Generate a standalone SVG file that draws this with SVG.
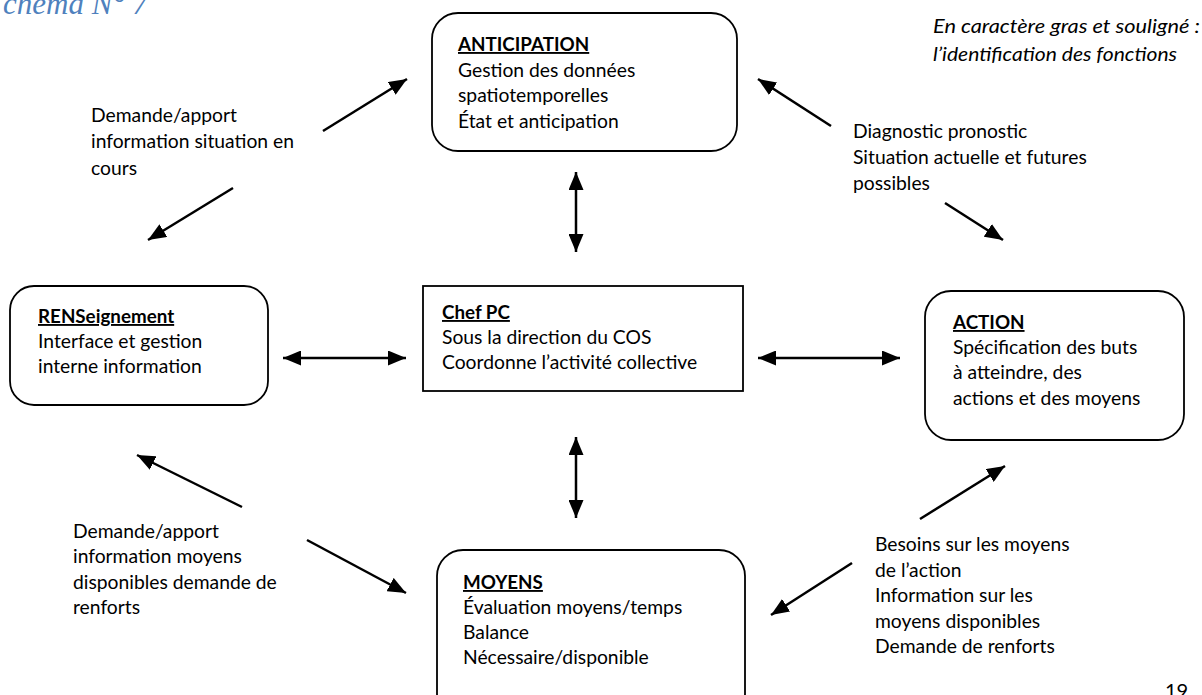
<svg xmlns="http://www.w3.org/2000/svg" width="1202" height="695" viewBox="0 0 1202 695">
  <style>
    .box { fill: #ffffff; stroke: #000000; stroke-width: 1.8; }
    .t { font-family: Lato, "Liberation Sans", sans-serif; font-size: 19.3px; fill: #000000; }
    .h { font-weight: bold; text-decoration: underline; font-size: 18.8px; }
    .note { font-family: Lato, "Liberation Sans", sans-serif; font-size: 19.3px; font-style: italic; fill: #000000; }
    .title { font-family: "Liberation Serif", "DejaVu Serif", serif; font-size: 31px; font-style: italic; fill: #4f81bd; }
    .link { fill: none; stroke: #000000; stroke-width: 2.5; }
  </style>
  <defs>
    <marker id="head" markerUnits="userSpaceOnUse" markerWidth="19" markerHeight="15" refX="18" refY="7.5" orient="auto-start-reverse">
      <path d="M0,0 L18,7.5 L0,15 Z" fill="#000000"/>
    </marker>
  </defs>

  <rect width="1202" height="695" fill="#ffffff"/>

  <!-- heading and notes -->
  <text class="title" x="3" y="14">chema N° 7</text>
  <text class="note" x="933" y="33" textLength="267" lengthAdjust="spacingAndGlyphs">En caractère gras et souligné :</text>
  <text class="note" x="933" y="61" textLength="244" lengthAdjust="spacingAndGlyphs">l’identification des fonctions</text>
  <text class="t" x="1165" y="698" style="font-size:20px">19</text>

  <!-- connectors -->
  <g id="connectors">
    <line class="link" x1="576" y1="172" x2="576" y2="252" marker-start="url(#head)" marker-end="url(#head)"/>
    <line class="link" x1="576" y1="437" x2="576" y2="518" marker-start="url(#head)" marker-end="url(#head)"/>
    <line class="link" x1="283" y1="358" x2="406" y2="358" marker-start="url(#head)" marker-end="url(#head)"/>
    <line class="link" x1="758" y1="358" x2="900" y2="358" marker-start="url(#head)" marker-end="url(#head)"/>

    <line class="link" x1="323" y1="131" x2="407" y2="79" marker-end="url(#head)"/>
    <line class="link" x1="233" y1="188" x2="148" y2="240" marker-end="url(#head)"/>
    <line class="link" x1="831" y1="126" x2="758" y2="79" marker-end="url(#head)"/>
    <line class="link" x1="945" y1="203" x2="1003" y2="240" marker-end="url(#head)"/>
    <line class="link" x1="242" y1="507" x2="137" y2="455" marker-end="url(#head)"/>
    <line class="link" x1="307" y1="540" x2="406" y2="593" marker-end="url(#head)"/>
    <line class="link" x1="920" y1="519" x2="1005" y2="466" marker-end="url(#head)"/>
    <line class="link" x1="852" y1="563" x2="771" y2="615" marker-end="url(#head)"/>

    <text class="t" x="91" y="122">Demande/apport</text>
    <text class="t" x="91" y="148">information situation en</text>
    <text class="t" x="91" y="175">cours</text>

    <text class="t" x="853" y="138">Diagnostic pronostic</text>
    <text class="t" x="853" y="164">Situation actuelle et futures</text>
    <text class="t" x="853" y="190">possibles</text>

    <text class="t" x="73" y="538">Demande/apport</text>
    <text class="t" x="73" y="563">information moyens</text>
    <text class="t" x="73" y="589">disponibles demande de</text>
    <text class="t" x="73" y="614">renforts</text>

    <text class="t" x="875" y="551">Besoins sur les moyens</text>
    <text class="t" x="875" y="577">de l’action</text>
    <text class="t" x="875" y="602">Information sur les</text>
    <text class="t" x="875" y="628">moyens disponibles</text>
    <text class="t" x="875" y="653">Demande de renforts</text>
  </g>

  <!-- function nodes -->
  <g id="anticipation">
    <rect class="box" x="432" y="13" width="305" height="138" rx="26"/>
    <text class="t h" x="458" y="51">ANTICIPATION</text>
    <text class="t" x="458" y="77">Gestion des données</text>
    <text class="t" x="458" y="102">spatiotemporelles</text>
    <text class="t" x="458" y="128">État et anticipation</text>
  </g>

  <g id="renseignement">
    <rect class="box" x="10" y="286" width="258" height="119" rx="24"/>
    <text class="t h" x="38" y="323">RENSeignement</text>
    <text class="t" x="38" y="348">Interface et gestion</text>
    <text class="t" x="38" y="373">interne information</text>
  </g>

  <g id="chef-pc">
    <rect class="box" x="423" y="286" width="320" height="105"/>
    <text class="t h" x="442" y="319">Chef PC</text>
    <text class="t" x="442" y="344">Sous la direction du COS</text>
    <text class="t" x="442" y="369">Coordonne l’activité collective</text>
  </g>

  <g id="action">
    <rect class="box" x="925" y="291" width="259" height="149" rx="26"/>
    <text class="t h" x="953" y="329">ACTION</text>
    <text class="t" x="953" y="354">Spécification des buts</text>
    <text class="t" x="953" y="379">à atteindre, des</text>
    <text class="t" x="953" y="405">actions et des moyens</text>
  </g>

  <g id="moyens">
    <rect class="box" x="437" y="550" width="308" height="170" rx="26"/>
    <text class="t h" x="463" y="589">MOYENS</text>
    <text class="t" x="463" y="614">Évaluation moyens/temps</text>
    <text class="t" x="463" y="639">Balance</text>
    <text class="t" x="463" y="664">Nécessaire/disponible</text>
  </g>
</svg>
